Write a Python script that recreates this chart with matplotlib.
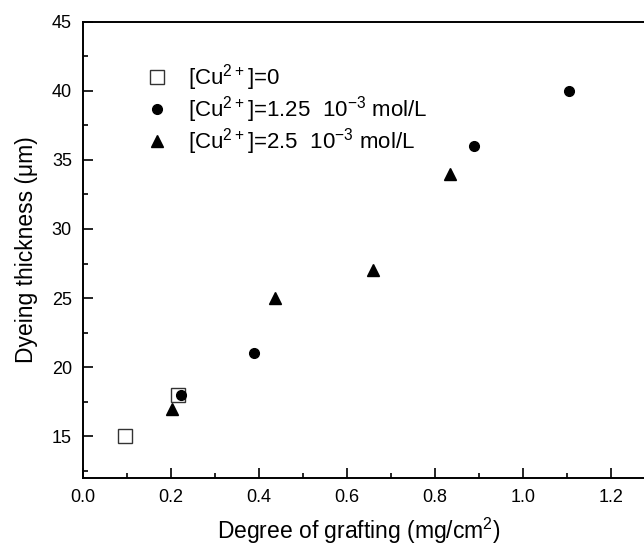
import numpy as np
import matplotlib
matplotlib.use("Agg")
import matplotlib.pyplot as plt
from matplotlib.ticker import MultipleLocator

plt.rcParams['font.family'] = ['Liberation Sans', 'DejaVu Sans']
plt.rcParams['mathtext.fontset'] = 'custom'
plt.rcParams['mathtext.rm'] = 'Liberation Sans'

# data
x_cu0 = [0.095, 0.217]
y_cu0 = [15, 18]
x_cu125 = [0.222, 0.389, 0.889, 1.105]
y_cu125 = [18, 21, 36, 40]
x_cu25 = [0.203, 0.436, 0.658, 0.833]
y_cu25 = [17, 25, 27, 34]

labels = ["[Cu$^{2+}$]=0",
          "[Cu$^{2+}$]=1.25  10$^{-3}$ mol/L",
          "[Cu$^{2+}$]=2.5  10$^{-3}$ mol/L"]

fig = plt.figure(figsize=(6.44, 5.47), dpi=100)
# right edge of the axes runs past the picture, like the cropped original
ax = fig.add_axes([0.1289, 0.1267, 0.8746, 0.8336])

ax.plot(x_cu0, y_cu0, ls='none', marker='s', ms=9.5, mfc='white', mec='#333333', mew=1.0, label=labels[0], zorder=2)
ax.plot(x_cu125, y_cu125, ls='none', marker='o', ms=7, color='black', label=labels[1], zorder=3)
ax.plot(x_cu25, y_cu25, ls='none', marker='^', ms=8, color='black', label=labels[2], zorder=1)

ax.set_xlim(0, 1.28)
ax.set_ylim(12, 45)
ax.xaxis.set_major_locator(MultipleLocator(0.2))
ax.xaxis.set_minor_locator(MultipleLocator(0.1))
ax.yaxis.set_major_locator(MultipleLocator(5))
ax.yaxis.set_minor_locator(MultipleLocator(2.5))
ax.xaxis.set_major_formatter(plt.FormatStrFormatter('%.1f'))
ax.tick_params(which='both', direction='in', labelsize=13, width=1.2, top=False, right=False)
ax.tick_params(which='major', length=7, pad=8)
ax.tick_params(which='minor', length=3.6)
for s in ax.spines.values():
    s.set_linewidth(1.4)
ax.spines['right'].set_visible(False)

ax.set_xlabel("Degree of grafting (mg/cm$^2$)", fontsize=16.5)
ax.set_ylabel("Dyeing thickness (\u03bcm)", fontsize=16.5, labelpad=10)
ax.xaxis.set_label_coords(0.49, -0.083)

ax.legend(loc='upper left', bbox_to_anchor=(0.095, 0.93), frameon=False, fontsize=16,
          handlelength=1.0, handletextpad=0.9, labelspacing=0.05, borderaxespad=0)

fig.savefig("out.png", dpi=100)
